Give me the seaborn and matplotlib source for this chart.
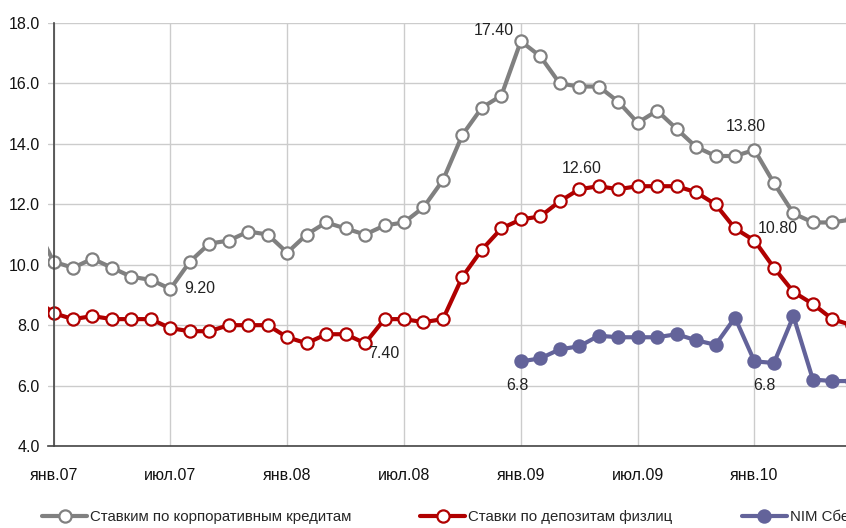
import numpy as np
import pandas as pd
import seaborn as sns
import matplotlib.pyplot as plt

# monthly data, Dec 2006 .. Jun 2010 (index -1 = дек.06, 0 = янв.07)
month_idx = np.arange(-1, 42)
corp_loans = [11.4,
              10.1, 9.9, 10.2, 9.9, 9.6, 9.5, 9.2, 10.1, 10.7, 10.8, 11.1, 11.0,
              10.4, 11.0, 11.4, 11.2, 11.0, 11.3, 11.4, 11.9, 12.8, 14.3, 15.2, 15.6,
              17.4, 16.9, 16.0, 15.9, 15.9, 15.4, 14.7, 15.1, 14.5, 13.9, 13.6, 13.6,
              13.8, 12.7, 11.7, 11.4, 11.4, 11.5]
deposits = [8.9,
            8.4, 8.2, 8.3, 8.2, 8.2, 8.2, 7.9, 7.8, 7.8, 8.0, 8.0, 8.0,
            7.6, 7.4, 7.7, 7.7, 7.4, 8.2, 8.2, 8.1, 8.2, 9.6, 10.5, 11.2,
            11.5, 11.6, 12.1, 12.5, 12.6, 12.5, 12.6, 12.6, 12.6, 12.4, 12.0, 11.2,
            10.8, 9.9, 9.1, 8.7, 8.2, 8.0]
nim = [np.nan] * 25 + [6.8, 6.9, 7.2, 7.3, 7.65, 7.6, 7.6, 7.6, 7.7, 7.5, 7.35, 8.25,
                       6.8, 6.75, 8.3, 6.2, 6.15, 6.15]

tick_pos = [0, 6, 12, 18, 24, 30, 36]
tick_labels = ["янв.07", "июл.07", "янв.08", "июл.08", "янв.09", "июл.09", "янв.10"]

names = ["Ставким по корпоративным кредитам", "Ставки по депозитам физлиц", "NIM Сбербанка"]

# (series, month index, offset px, ha, va, decimals)
notes = [(0, 24, (-7, 11), "right", "center", 2),
         (0, 6, (14, 0), "left", "center", 2),
         (0, 36, (-9, 23), "center", "center", 2),
         (1, 36, (3, 12), "left", "center", 2),
         (1, 28, (-17, 18), "center", "center", 2),
         (1, 16, (3, -10), "left", "center", 2),
         (2, 24, (-3, -24), "center", "center", 1),
         (2, 36, (10, -24), "center", "center", 1)]

df = pd.DataFrame({"m": month_idx, names[0]: corp_loans, names[1]: deposits, names[2]: nim})

sns.set_style("white")
plt.rcParams["font.family"] = ["Liberation Sans", "DejaVu Sans"]
plt.rcParams["font.size"] = 11.5

fig = plt.figure(figsize=(8.46, 5.28), dpi=100)
ax = fig.add_axes([0.0564, 0.1553, 0.962, 0.801])

styles = [dict(color="#808080", markerfacecolor="white", markeredgecolor="#808080"),
          dict(color="#b00000", markerfacecolor="white", markeredgecolor="#b00000"),
          dict(color="#63639a", markerfacecolor="#63639a", markeredgecolor="#63639a")]

for name, st in zip(names, styles):
    sub = df[["m", name]].dropna()
    sns.lineplot(data=sub, x="m", y=name, ax=ax, marker="o", markersize=8.8,
                 markeredgewidth=1.6, linewidth=3, label=name, **st)

for s, m, off, ha, va, dec in notes:
    y = df.loc[df["m"] == m, names[s]].values[0]
    ax.annotate(f"{y:.{dec}f}", (m, y), xytext=off, textcoords="offset pixels",
                ha=ha, va=va, fontsize=11.5, color="#222222")

ax.set_xlim(-0.3, 41.5)
ax.set_ylim(4, 18)
ax.set_yticks(np.arange(4, 18.1, 2))
ax.set_yticklabels([f"{v:.1f}" for v in np.arange(4, 18.1, 2)])
ax.set_xticks(tick_pos)
ax.set_xticklabels(tick_labels)
ax.set_xlabel("")
ax.set_ylabel("")
ax.grid(True, color="#cccccc", linewidth=1)
ax.set_axisbelow(True)

for side in ["top", "right"]:
    ax.spines[side].set_visible(False)
ax.spines["left"].set_position(("data", 0))
for side in ["left", "bottom"]:
    ax.spines[side].set_color("#444444")
    ax.spines[side].set_linewidth(1.2)
ax.tick_params(axis="both", direction="out", length=4, color="#444444", labelcolor="#111111")
ax.tick_params(axis="x", pad=12)
ax.tick_params(axis="y", pad=6)

handles, labels = ax.get_legend_handles_labels()
if ax.get_legend() is not None:
    ax.get_legend().remove()
# the source image is cropped on the right, so the last legend entry runs off the edge
fig.legend(handles, labels, loc="center left", bbox_to_anchor=(42 / 846, 1 - 517 / 528),
           ncol=3, frameon=False, borderpad=0, borderaxespad=0, handlelength=3.0,
           handletextpad=0.2, columnspacing=4.6, fontsize=10.8)

fig.savefig("out.png", dpi=100)
